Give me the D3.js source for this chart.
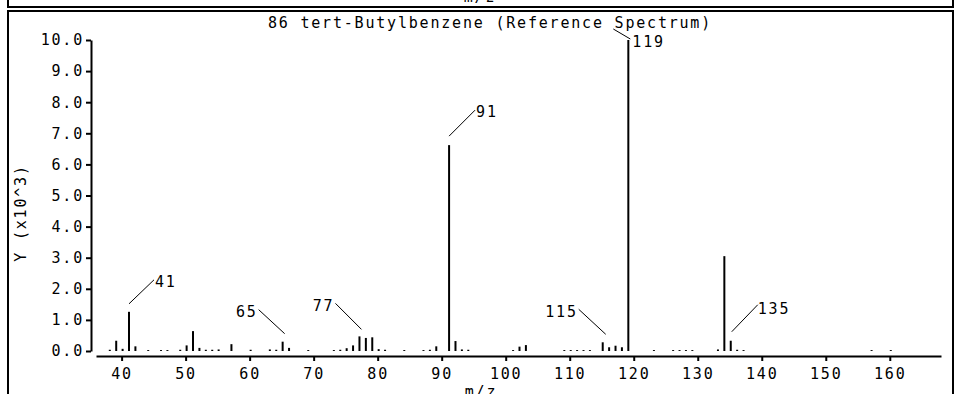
<!DOCTYPE html>
<html lang="en">
<head>
<meta charset="utf-8">
<title>tert-Butylbenzene</title>
<script src="https://cdnjs.cloudflare.com/ajax/libs/d3/7.8.5/d3.min.js"></script>
<style>
  body { margin: 0; background: #fff; }
  svg { display: block; font-family: 'DejaVu Sans Mono', monospace; }
</style>
</head>
<body>
<div id="chart"></div>
<script>
// Spectrum peaks (intensity in units of 10^3)
const mz = [38, 39, 40, 41, 42, 44, 46, 47, 49, 50, 51, 52, 53, 54, 55, 57, 60,
  63, 64, 65, 66, 69, 73, 74, 75, 76, 77, 78, 79, 80, 81, 84, 87, 88, 89,
  91, 92, 93, 94, 101, 102, 103, 109, 110, 111, 112, 113, 115, 116, 117, 118,
  119, 123, 126, 127, 128, 129, 133, 134, 135, 136, 137, 157, 160];
const intensity = [0.04, 0.33, 0.07, 1.26, 0.15, 0.03, 0.03, 0.03, 0.04, 0.18, 0.64, 0.10, 0.04, 0.04, 0.05, 0.22, 0.04,
  0.05, 0.04, 0.30, 0.10, 0.03, 0.03, 0.04, 0.09, 0.18, 0.47, 0.42, 0.44, 0.06, 0.04, 0.03, 0.03, 0.04, 0.15,
  6.62, 0.32, 0.05, 0.04, 0.03, 0.14, 0.19, 0.03, 0.03, 0.03, 0.03, 0.03, 0.28, 0.12, 0.17, 0.12,
  10.0, 0.03, 0.03, 0.03, 0.03, 0.03, 0.05, 3.05, 0.33, 0.04, 0.03, 0.03, 0.03];
const labelledPeaks = [41, 65, 77, 91, 115, 119, 135];
const xTicks = [40, 50, 60, 70, 80, 90, 100, 110, 120, 130, 140, 150, 160];
const yTicks = [0, 1, 2, 3, 4, 5, 6, 7, 8, 9, 10];

const title = "86 tert-Butylbenzene (Reference Spectrum)";
const xLabel = "m/z";
const yLabel = "Y (x10^3)";

const W = 955, H = 394;
const fontSize = "15px";
const spacing = "1.8px";

const svg = d3.select("#chart").append("svg")
    .attr("width", W)
    .attr("height", H);

// Frames: bottom of previous panel, then this panel
svg.append("rect")
    .attr("x", 8).attr("y", -20)
    .attr("width", 945).attr("height", 27)
    .attr("fill", "none").attr("stroke", "#000").attr("stroke-width", 2);
svg.append("text")
    .attr("x", 480).attr("y", 2)
    .attr("text-anchor", "middle")
    .style("font-size", fontSize).style("letter-spacing", spacing)
    .text(xLabel);
svg.append("rect")
    .attr("x", 8).attr("y", 11)
    .attr("width", 945).attr("height", 400)
    .attr("fill", "none").attr("stroke", "#000").attr("stroke-width", 2);

// Scales
const x = d3.scaleLinear().domain([36, 168]).range([96, 941]);
const y = d3.scaleLinear().domain([0, 10]).range([351, 40]);

// Axes
const xAxis = svg.append("g")
    .attr("transform", "translate(0,356)")
    .call(d3.axisBottom(x).tickValues(xTicks).tickSize(5).tickSizeOuter(0).tickPadding(7));
const yAxis = svg.append("g")
    .attr("transform", "translate(91,0)")
    .call(d3.axisLeft(y).tickValues(yTicks).tickFormat(d3.format(".1f")).tickSize(5).tickSizeOuter(0).tickPadding(2));

[xAxis, yAxis].forEach(g => {
    g.selectAll("path, line").attr("stroke", "#000").attr("stroke-width", 2);
    g.selectAll("text")
        .attr("fill", "#000")
        .style("font-family", "'DejaVu Sans Mono', monospace")
        .style("font-size", fontSize)
        .style("letter-spacing", spacing);
});

// Peaks
const peaks = mz.map((m, i) => ({ m, v: intensity[i] }));
svg.append("g").selectAll("line")
    .data(peaks)
    .join("line")
    .attr("x1", d => x(d.m) + 1)
    .attr("x2", d => x(d.m) + 1)
    .attr("y1", y(0))
    .attr("y2", d => y(d.v))
    .attr("stroke", "#000")
    .attr("stroke-width", 2);

// Peak annotations: leader offsets relative to the peak top
const leader = {
    41:  { x1: 0,   y1: -8,  x2: 25,  y2: -32, tx: 1,  ty: 2,  anchor: "start" },
    65:  { x1: 2,   y1: -8,  x2: -24, y2: -32, tx: -1, ty: 2,  anchor: "end" },
    77:  { x1: 2,   y1: -7,  x2: -24, y2: -33, tx: -1, ty: 2,  anchor: "end" },
    91:  { x1: 0,   y1: -9,  x2: 26,  y2: -35, tx: 1,  ty: 2,  anchor: "start" },
    115: { x1: 3,   y1: -8,  x2: -24, y2: -33, tx: -1, ty: 2,  anchor: "end" },
    119: { x1: -15, y1: -11, x2: 2,   y2: -1,  tx: 2,  ty: 3,  anchor: "start" },
    135: { x1: 1,   y1: -9,  x2: 27,  y2: -36, tx: 0,  ty: 4,  anchor: "start" }
};
const ann = svg.append("g");
labelledPeaks.forEach(m => {
    const p = peaks.find(d => d.m === m);
    const o = leader[m];
    const px = x(p.m) + 1, py = y(p.v);
    ann.append("line")
        .attr("x1", px + o.x1).attr("y1", py + o.y1)
        .attr("x2", px + o.x2).attr("y2", py + o.y2)
        .attr("stroke", "#000").attr("stroke-width", 1);
    ann.append("text")
        .attr("x", px + o.x2 + o.tx)
        .attr("y", py + o.y2 + o.ty)
        .attr("dy", "0.35em")
        .attr("text-anchor", o.anchor)
        .style("font-size", fontSize)
        .style("letter-spacing", spacing)
        .text(m);
});

// Title and axis labels
svg.append("text")
    .attr("x", 490).attr("y", 28)
    .attr("text-anchor", "middle")
    .style("font-size", fontSize).style("letter-spacing", spacing)
    .text(title);
svg.append("text")
    .attr("x", 481).attr("y", 397)
    .attr("text-anchor", "middle")
    .style("font-size", fontSize).style("letter-spacing", spacing)
    .text(xLabel);
svg.append("text")
    .attr("transform", "translate(26,213) rotate(-90)")
    .attr("text-anchor", "middle")
    .style("font-size", fontSize).style("letter-spacing", spacing)
    .text(yLabel);
</script>
</body>
</html>
